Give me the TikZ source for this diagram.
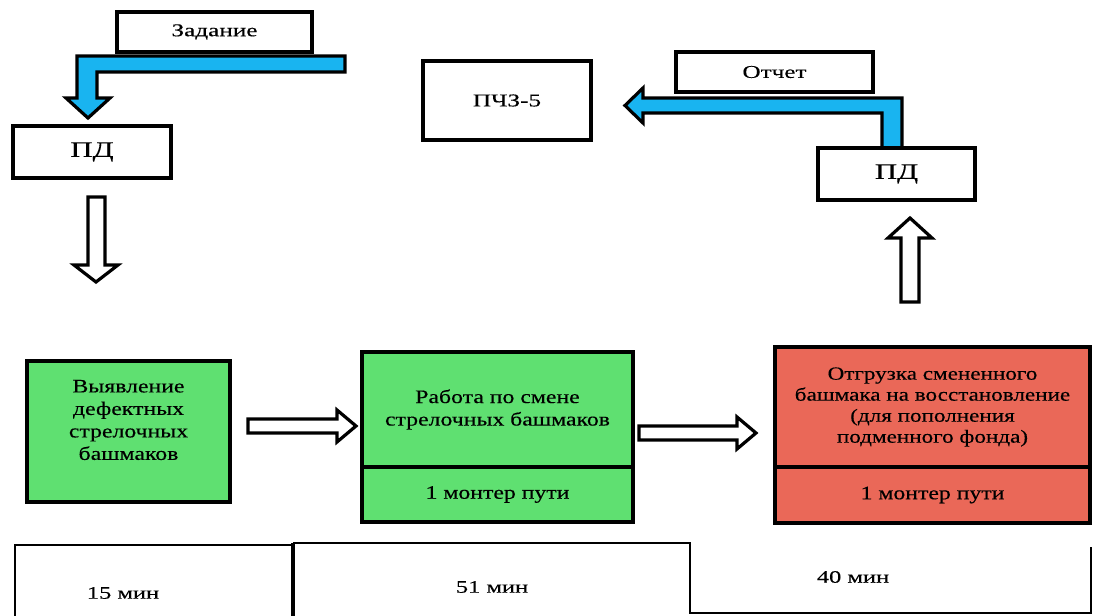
\documentclass[tikz,border=0pt]{standalone}
\usepackage{fontspec}
\setmainfont{Liberation Serif}[FakeStretch=1.25,FakeBold=0.3]
\newfontfamily\widefam{Liberation Serif}[FakeStretch=1.4,FakeBold=0.3]
\usetikzlibrary{calc}
\definecolor{bgreen}{RGB}{95,224,113}
\definecolor{bred}{RGB}{234,104,88}
\definecolor{bblue}{RGB}{25,180,240}
\newcommand{\labfont}{\widefam\fontsize{18}{21}\selectfont}
\newcommand{\pdfont}{\widefam\fontsize{22}{26}\selectfont}
\newcommand{\boxfont}{\fontsize{19}{22.5}\selectfont}
\newcommand{\redfont}{\fontsize{18.5}{21}\selectfont}
\newcommand{\timefont}{\widefam\fontsize{17.5}{21}\selectfont}
\begin{document}
\begin{tikzpicture}[x=1pt,y=-1pt,
  wbox/.style={draw=black, line width=3.2pt, fill=white, inner sep=0pt, outer sep=0pt, align=center},
  gbox/.style={draw=black, line width=3.8pt, fill=bgreen, inner sep=0pt, outer sep=0pt, align=center},
  rbox/.style={draw=black, line width=3.8pt, fill=bred, inner sep=0pt, outer sep=0pt, align=center},
  hollow/.style={draw=black, line width=3.2pt, fill=white, line join=miter},
  bluearrow/.style={draw=black, line width=3.2pt, fill=bblue, line join=miter},
  frame/.style={draw=black, line width=2.8pt},
  plain/.style={inner sep=0pt, align=center}]
\useasboundingbox (0,0) rectangle (1093,616);

% top-left
\node[wbox, minimum width=195pt, minimum height=40pt, font=\labfont] (zad) at (214.5,32) {Задание};
\node[wbox, minimum width=158pt, minimum height=52pt, font=\pdfont] (pd1) at (92,152) {ПД};
\draw[bluearrow] ($(pd1.north)+(-4,-8)$) -- ++(22,-20) -- ++(-13,0) -- ++(0,-26) -- ++(248,0)
  -- ++(0,-16) -- ++(-268,0) -- ++(0,42) -- ++(-11,0) -- cycle;
\draw[hollow] ($(pd1.south)+(-4,19)$) -- ++(0,68) -- ++(-14,0) -- ++(22,17) -- ++(22,-17)
  -- ++(-13,0) -- ++(0,-68) -- cycle;

% top-right
\node[wbox, minimum width=168pt, minimum height=79pt, font=\labfont] (pchz) at (507,100.5) {ПЧЗ-5};
\node[wbox, minimum width=197pt, minimum height=40pt, font=\labfont] (otch) at (774.5,72) {Отчет};
\coordinate (pd2c) at (896.5,174);
\draw[bluearrow] ($(pd2c)+(-14.5,-26)$) -- ++(0,-35) -- ++(-239,0) -- ++(0,10) -- ++(-18,-17.5)
  -- ++(18,-17.5) -- ++(0,10) -- ++(259,0) -- ++(0,50) -- cycle;
\node[wbox, minimum width=157pt, minimum height=52pt, font=\pdfont] (pd2) at (pd2c) {ПД};

% process boxes
\node[gbox, minimum width=203pt, minimum height=141pt] (vyav) at (128.5,431.5) {};
\node[plain, font=\boxfont] (vyavT) at (128.5,420) {Выявление\\дефектных\\стрелочных\\башмаков};
\node[gbox, minimum width=271pt, minimum height=115pt, font=\boxfont] (rab) at (497.5,409.5) {Работа по смене\\стрелочных башмаков};
\node[gbox, minimum width=271pt, minimum height=55pt, font=\boxfont] (rab2) at (497.5,494.5) {1 монтер пути};
\node[rbox, minimum width=315pt, minimum height=120pt, font=\redfont] (otgr) at (932.5,407) {Отгрузка смененного\\башмака на восстановление\\(для пополнения\\подменного фонда)};
\node[rbox, minimum width=315pt, minimum height=56pt, font=\boxfont] (otgr2) at (932.5,495) {1 монтер пути};

\draw[hollow] ($(vyav.east)+(18,-12.5)$) -- ++(89,0) -- ++(0,-9) -- ++(19,16) -- ++(-19,16)
  -- ++(0,-9) -- ++(-89,0) -- cycle;
\draw[hollow] ($(rab.east)+(6,16.5)$) -- ++(98,0) -- ++(0,-9) -- ++(19,16) -- ++(-19,16)
  -- ++(0,-9) -- ++(-98,0) -- cycle;
\draw[hollow] ($(otgr.north)+(-31.5,-45)$) -- ++(0,-64) -- ++(-13,0) -- ++(22,-20) -- ++(22,20)
  -- ++(-13,0) -- ++(0,64) -- cycle;

% time table
\draw[frame] (15,622) -- (15,545) -- (293,545);
\draw[frame] (293,543) -- (690,543) -- (690,613) -- (1091,613) -- (1091,547);
\draw[frame, line width=3.8pt] (293,543) -- (293,622);
\node[plain, font=\timefont] (t15) at (123,593) {15 мин};
\node[plain, font=\timefont] (t51) at (492,587) {51 мин};
\node[plain, font=\timefont] (t40) at (853,577) {40 мин};
\end{tikzpicture}
\end{document}
